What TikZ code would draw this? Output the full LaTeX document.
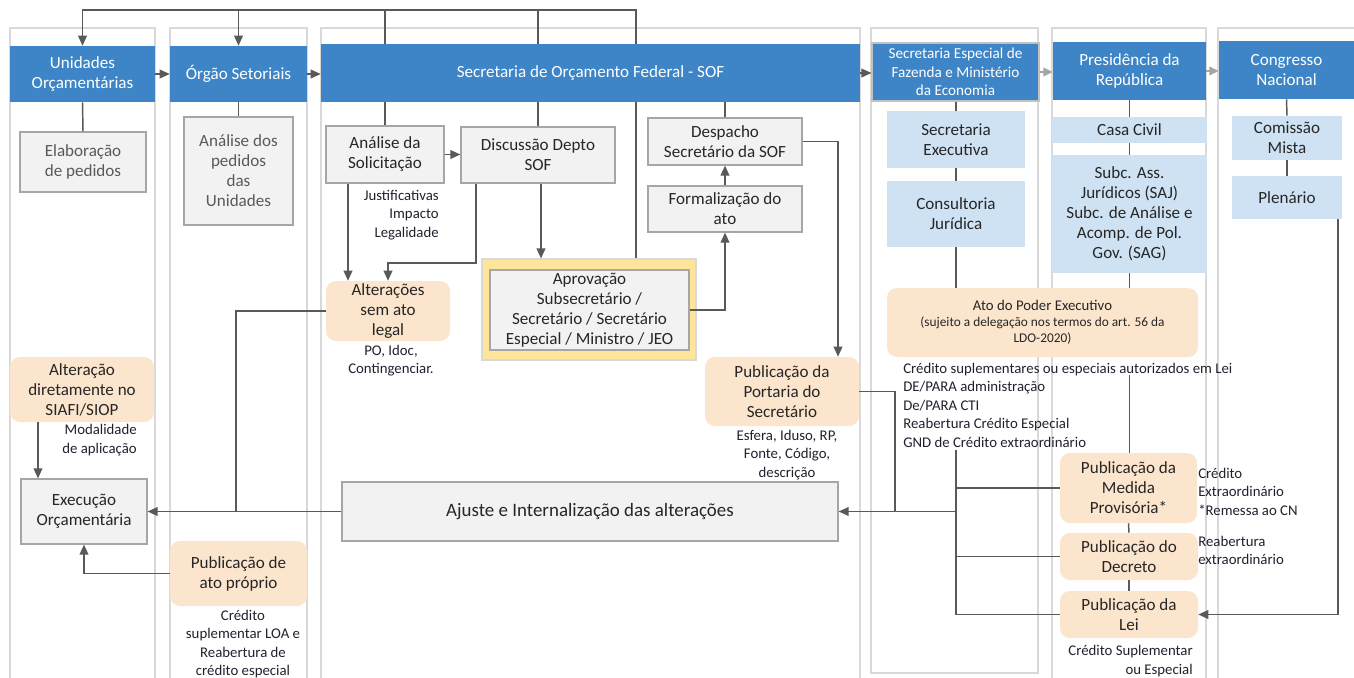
\documentclass[tikz,border=0pt]{standalone}
\usepackage{fontspec}
\setmainfont{Carlito}
\usetikzlibrary{arrows.meta,calc}
\pgfdeclarelayer{bg}
\pgfsetlayers{bg,main}
\definecolor{hdrC}{HTML}{3D85C6}
\definecolor{laneC}{HTML}{D9D9D9}
\definecolor{gfill}{HTML}{F2F2F2}
\definecolor{gdraw}{HTML}{A6A6A6}
\definecolor{peach}{HTML}{FCE5CD}
\definecolor{lblue}{HTML}{CFE2F3}
\definecolor{yel}{HTML}{FFE599}
\definecolor{conC}{HTML}{595959}
\definecolor{txtC}{HTML}{262626}
\definecolor{greyT}{HTML}{595959}
\definecolor{noteC}{HTML}{23202F}
\newcommand\fmain{\fontsize{12.8}{15}\selectfont}
\newcommand\fnote{\fontsize{11.1}{13.9}\selectfont}
\newcommand\fhsmall{\fontsize{11.4}{13.9}\selectfont}
\newcommand\fsmall{\fontsize{10}{12}\selectfont}
\newcommand\fbig{\fontsize{14.2}{17}\selectfont}
\newcommand\bx[7]{\node[inner sep=0pt, #2, minimum width={((#5)-(#3))*0.75pt}, minimum height={((#6)-(#4))*0.75pt}] (#1) at ({((#3)+(#5))/2},{((#4)+(#6))/2}) {#7};}
\begin{document}
\begin{tikzpicture}[x=0.75pt,y=-0.75pt,
 lane/.style={draw=laneC, line width=1.2pt},
 hdr/.style={fill=hdrC, text=white, align=center, font=\fmain},
 gbox/.style={fill=gfill, draw=gdraw, line width=0.9pt, text=txtC, align=center, font=\fmain},
 pbox/.style={fill=peach, rounded corners=7.5pt, text=txtC, align=center, font=\fmain},
 bbox/.style={fill=lblue, text=txtC, align=center, font=\fmain},
 yelbox/.style={fill=yel, draw=laneC, line width=0.8pt},
 note/.style={text=noteC, font=\fnote, inner sep=0pt},
 conn/.style={draw=conC, line width=1.1pt},
 arr/.style={conn, -{Triangle[length=7.5pt,width=6.5pt]}},
 lightarr/.style={draw=gray!70, -{Triangle[length=7pt,width=6.5pt]}}]
\useasboundingbox (0,0) rectangle (1354,678);
\begin{pgfonlayer}{bg}
\fill[white] (0,0) rectangle (1354,678);
\draw[lane] (10,28) rectangle (155,681);
\draw[lane] (170,28) rectangle (307,681);
\draw[lane] (321,28) rectangle (860,681);
\draw[lane] (871,28) rectangle (1038,673);
\draw[lane] (1052,28) rectangle (1206,681);
\draw[lane] (1218,28) rectangle (1364,681);
\end{pgfonlayer}
% headers
\bx{h1}{hdr}{10}{46}{155}{102}{Unidades\\Orçamentárias}
\bx{h2}{hdr}{170}{46}{307}{102}{Órgão Setoriais}
\bx{h3}{hdr}{321}{44}{860}{102}{Secretaria de Orçamento Federal - SOF}
\bx{h4}{hdr,font=\fhsmall,draw=gdraw!70,line width=0.8pt}{872}{43}{1039}{101}{Secretaria Especial de\\Fazenda e Ministério\\da Economia}
\bx{h5}{hdr}{1053}{42}{1206}{100}{Presidência da\\República}
\bx{h6}{hdr}{1219}{41}{1354}{99}{Congresso\\Nacional}
% lane 1 and 2
\bx{elab}{gbox,text=greyT}{20}{132}{146}{192}{Elaboração\\de pedidos}
\bx{anped}{gbox,text=greyT}{184}{117}{293}{225}{Análise dos\\pedidos\\das\\Unidades}
\bx{altdir}{pbox}{10}{357}{154}{422}{Alteração\\diretamente no\\SIAFI/SIOP}
\bx{exec}{gbox}{21}{479}{147}{544}{Execução\\Orçamentária}
\bx{pubato}{pbox}{170}{541}{307}{606}{Publicação de\\ato próprio}
% lane 3
\bx{anasol}{gbox}{326}{126}{444}{183}{Análise da\\Solicitação}
\bx{disc}{gbox}{461}{127}{615}{183}{Discussão Depto\\SOF}
\bx{desp}{gbox}{648}{118}{802}{165}{Despacho\\Secretário da SOF}
\bx{form}{gbox}{648}{186}{802}{232}{Formalização do\\ato}
\bx{aprovY}{yelbox}{482}{259}{696}{360}{}
\bx{aprov}{gbox}{490}{270}{689}{350}{Aprovação\\Subsecretário /\\Secretário / Secretário\\Especial / Ministro / JEO}
\bx{altsem}{pbox}{326}{281}{450}{341}{Alterações\\sem ato\\legal}
\bx{portaria}{pbox}{705}{357}{859}{426}{Publicação da\\Portaria do\\Secretário}
\bx{ajuste}{gbox,font=\fbig}{342}{482}{838}{541}{Ajuste e Internalização das alterações}
% lane 4
\bx{secexec}{bbox}{887}{111}{1025}{168}{Secretaria\\Executiva}
\bx{consult}{bbox}{887}{181}{1025}{247}{Consultoria\\Jurídica}
\bx{ato}{pbox,font=\fsmall}{887}{288}{1198}{357}{{\fnote Ato do Poder Executivo}\\(sujeito a delegação nos termos do art. 56 da\\LDO-2020)}
% lane 5
\bx{casa}{bbox}{1052}{117}{1207}{143}{Casa Civil}
\bx{subc}{bbox}{1052}{155}{1207}{273}{Subc. Ass.\\Jurídicos (SAJ)\\Subc. de Análise e\\Acomp. de Pol.\\Gov. (SAG)}
\bx{mp}{pbox}{1060}{453}{1197}{523}{Publicação da\\Medida\\Provisória*}
\bx{dec}{pbox}{1060}{533}{1198}{580}{Publicação do\\Decreto}
\bx{lei}{pbox}{1060}{591}{1198}{638}{Publicação da\\Lei}
% lane 6
\bx{com}{bbox}{1232}{116}{1342}{160}{Comissão\\Mista}
\bx{plen}{bbox}{1232}{176}{1342}{219}{Plenário}
% notes
\node[note, align=right, anchor=east] (n1) at (439,215) {Justificativas\\Impacto\\Legalidade};
\node[note, align=center] (n2) at (391,360.5) {PO, Idoc,\\Contingenciar.};
\node[note, align=right, anchor=east] (n3) at (137,440) {Modalidade\\de aplicação};
\node[note, align=center] (n4) at (787,455) {Esfera, Iduso, RP,\\Fonte, Código,\\descrição};
\node[note, align=center] (n5) at (243,644) {Crédito\\suplementar LOA e\\Reabertura de\\crédito especial};
\node[note, align=left, anchor=west] (n6) at (903,405) {Crédito suplementares ou especiais autorizados em Lei\\DE/PARA administração\\De/PARA CTI\\Reabertura Crédito Especial\\GND de Crédito extraordinário};
\node[note, align=left, anchor=west] (n7) at (1198,491.5) {Crédito\\Extraordinário\\*Remessa ao CN};
\node[note, align=left, anchor=west] (n8) at (1198,550.5) {Reabertura\\extraordinário};
\node[note, align=right, anchor=east] (n9) at (1193,661) {Crédito Suplementar\\ou Especial};
% helper coordinates
\coordinate (tp) at (0,10);
\coordinate (xa) at (636,0);
\coordinate (x348) at (348,0);
\coordinate (c476) at (476,263);
\coordinate (c388) at (388,263);
\coordinate (x541) at (541,0);
\coordinate (x838) at (838,0);
\coordinate (x236) at (236,0);
\coordinate (x38) at (38,0);
\coordinate (x84) at (84,0);
\coordinate (x895) at (895,0);
\coordinate (x956) at (956,0);
\coordinate (v1) at (956,450);
\coordinate (v2) at (1129.5,375);
\coordinate (x1338) at (1338,0);
% lines passing behind the SOF header
\begin{pgfonlayer}{bg}
\draw[conn] (anasol.north) -- (anasol.north |- tp);
\draw[conn] (disc.north) -- (disc.north |- tp);
\draw[arr] (aprovY.north -| xa) -- (xa |- tp) -| (h1.north);
\draw[arr] (h2.north |- tp) -- (h2.north);
\end{pgfonlayer}
% header arrows
\draw[arr] (h1.east) -- (h2.west);
\draw[arr] (h2.east) -- (h2.east -| h3.west);
\draw[arr] (h3.east) -- (h3.east -| h4.west);
\draw[arr,lightarr] (h4.east) -- (h4.east -| h5.west);
\draw[arr,lightarr] (h5.east) -- (h5.east -| h6.west);
% lanes 1-3
\draw[conn] (h1.south) -- (elab.north);
\draw[conn] (h2.south) -- (anped.north);
\draw[conn] (h3.south -| desp.north) -- (desp.north);
\draw[arr] (anasol.east) -- (anasol.east -| disc.west);
\draw[arr] (anasol.south -| x348) -- (altsem.north -| x348);
\draw[arr] (disc.south -| c476) -- (c476) -- (c388) -- (altsem.north -| c388);
\draw[arr] (disc.south -| x541) -- (aprovY.north -| x541);
\draw[arr] (aprov.east) -| (form.south);
\draw[arr] (form.north) -- (desp.south);
\draw[arr] (desp.east) -| (portaria.north -| x838);
\draw[conn] (altsem.west) -| (x236 |- exec.east);
\draw[arr] (ajuste.west) -- (exec.east);
\draw[arr] (altdir.south -| x38) -- (exec.north -| x38);
\draw[arr] (pubato.west) -| (exec.south -| x84);
\draw[conn] (portaria.east) -| (x895 |- ajuste.east);
\draw[arr] (x956 |- ajuste.east) -- (ajuste.east);
% lane 4
\draw[conn] (h4.south -| secexec.north) -- (secexec.north);
\draw[conn] (secexec.south) -- (consult.north);
\draw[conn] (consult.south) -- (consult.south |- ato.north);
\draw[conn] (v1) |- (lei.west);
\draw[conn] (v1 |- mp.west) -- (mp.west);
\draw[conn] (v1 |- dec.west) -- (dec.west);
% lane 5
\draw[conn] (h5.south) -- (casa.north);
\draw[conn] (casa.south) -- (subc.north);
\draw[conn] (subc.south) -- (subc.south |- ato.north);
\draw[conn] (v2) -- (v2 |- mp.north);
\draw[conn] (mp.south) -- (dec.north);
\draw[conn] (dec.south) -- (lei.north);
% lane 6
\draw[conn] (h6.south) -- (com.north);
\draw[conn] (com.south) -- (plen.north);
\draw[arr] (plen.south -| x1338) |- (lei.east);
\end{tikzpicture}
\end{document}
